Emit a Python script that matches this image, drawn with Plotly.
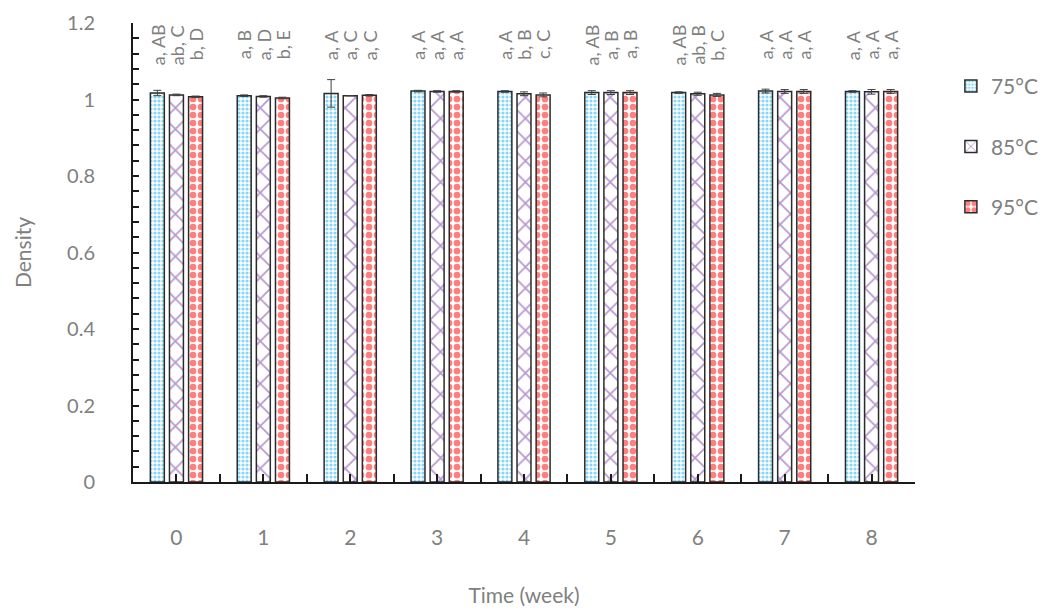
import numpy as np
import plotly.graph_objects as go

weeks = ["0", "1", "2", "3", "4", "5", "6", "7", "8"]
series_names = ["75°C", "85°C", "95°C"]
y_ticks = [0, 0.2, 0.4, 0.6, 0.8, 1.0, 1.2]
y_tick_text = ["0", "0.2", "0.4", "0.6", "0.8", "1", "1.2"]

d75 = [1.017, 1.010, 1.016, 1.022, 1.021, 1.018, 1.018, 1.022, 1.021]
d85 = [1.012, 1.008, 1.010, 1.021, 1.015, 1.018, 1.015, 1.021, 1.020]
d95 = [1.007, 1.004, 1.011, 1.021, 1.012, 1.018, 1.012, 1.021, 1.021]

e75 = [0.007, 0.002, 0.036, 0.002, 0.002, 0.005, 0.002, 0.005, 0.002]
e85 = [0.002, 0.002, 0.000, 0.002, 0.005, 0.005, 0.004, 0.005, 0.006]
e95 = [0.002, 0.002, 0.002, 0.002, 0.005, 0.005, 0.004, 0.005, 0.005]

lab75 = ["a, AB", "a, B", "a, A", "a, A", "a, A", "a, AB", "a, AB", "a, A", "a, A"]
lab85 = ["ab, C", "a, D", "a, C", "a, A", "b, B", "a, B", "ab, B", "a, A", "a, A"]
lab95 = ["b, D", "b, E", "a, C", "a, A", "c, C", "a, B", "b, C", "a, A", "a, A"]

values = [d75, d85, d95]
errors = [e75, e85, e95]
labels = [lab75, lab85, lab95]

patterns = [
    dict(shape=".", fgcolor="#12aeea", bgcolor="white", size=4, solidity=0.5, fillmode="overlay"),
    dict(shape="x", fgcolor="#7030a0", bgcolor="white", size=15, solidity=0.22, fillmode="overlay"),
    dict(shape=".", fgcolor="#ff0000", bgcolor="white", size=8, solidity=0.55, fillmode="overlay"),
]

FONT = "Lato"
GRAY = "#808080"

xpos = np.arange(len(weeks))
bargap = 0.34
bargroupgap = 0.27
slot = (1 - bargap) / 3

fig = go.Figure()
for k in range(3):
    fig.add_trace(go.Bar(
        x=xpos, y=values[k], name=series_names[k],
        legendgroup=series_names[k],
        marker=dict(color="white", pattern=patterns[k],
                    line=dict(color="#2b2b2b", width=1.5)),
        error_y=dict(type="data", array=errors[k], visible=True,
                     color="#404040", thickness=1, width=4),
    ))

annotations = []
for k in range(3):
    for i in range(len(weeks)):
        annotations.append(dict(
            x=xpos[i] + (k - 1) * slot, y=1.143, xref="x", yref="y",
            text=labels[k][i], textangle=-90, showarrow=False,
            xanchor="center", yanchor="middle",
            font=dict(family=FONT, size=18, color=GRAY),
        ))

fig.update_layout(
    width=1050, height=610,
    margin=dict(l=125, r=143, t=15, b=136, autoexpand=False),
    plot_bgcolor="white", paper_bgcolor="white",
    barmode="group", bargap=bargap, bargroupgap=bargroupgap,
    annotations=annotations,
    legend=dict(xref="container", yref="container", x=0.898, y=0.905,
                xanchor="left", yanchor="top",
                font=dict(family=FONT, size=21, color=GRAY),
                tracegroupgap=30, itemwidth=30),
    xaxis=dict(
        range=[-0.5, 8.5], tickmode="array", tickvals=list(xpos), ticktext=weeks,
        showline=True, linecolor="#1a1a1a", linewidth=2,
        ticks="inside", ticklen=8, tickwidth=2, tickcolor="#1a1a1a",
        minor=dict(tickmode="array", tickvals=list(np.arange(-0.5, 8.6, 1.0)),
                   ticks="inside", ticklen=8, tickwidth=2, tickcolor="#1a1a1a"),
        showgrid=False, zeroline=False, automargin=False,
        tickfont=dict(family=FONT, size=21, color=GRAY),
        ticklabelstandoff=36, ticklabeloverflow="allow",
        title=dict(text="Time (week)", font=dict(family=FONT, size=21, color=GRAY), standoff=40),
    ),
    yaxis=dict(
        range=[0, 1.2], tickmode="array", tickvals=y_ticks, ticktext=y_tick_text,
        showline=True, linecolor="#1a1a1a", linewidth=2,
        ticks="inside", ticklen=6, tickwidth=2, tickcolor="#1a1a1a",
        minor=dict(tickmode="linear", tick0=0, dtick=0.04, ticks="inside", ticklen=6,
                   tickwidth=2, tickcolor="#1a1a1a"),
        showgrid=False, zeroline=False, automargin=False,
        tickfont=dict(family=FONT, size=20, color=GRAY),
        ticklabelstandoff=32, ticklabeloverflow="allow",
        title=dict(text="Density", font=dict(family=FONT, size=21, color=GRAY), standoff=30),
    ),
)

fig.write_html("out.html")
